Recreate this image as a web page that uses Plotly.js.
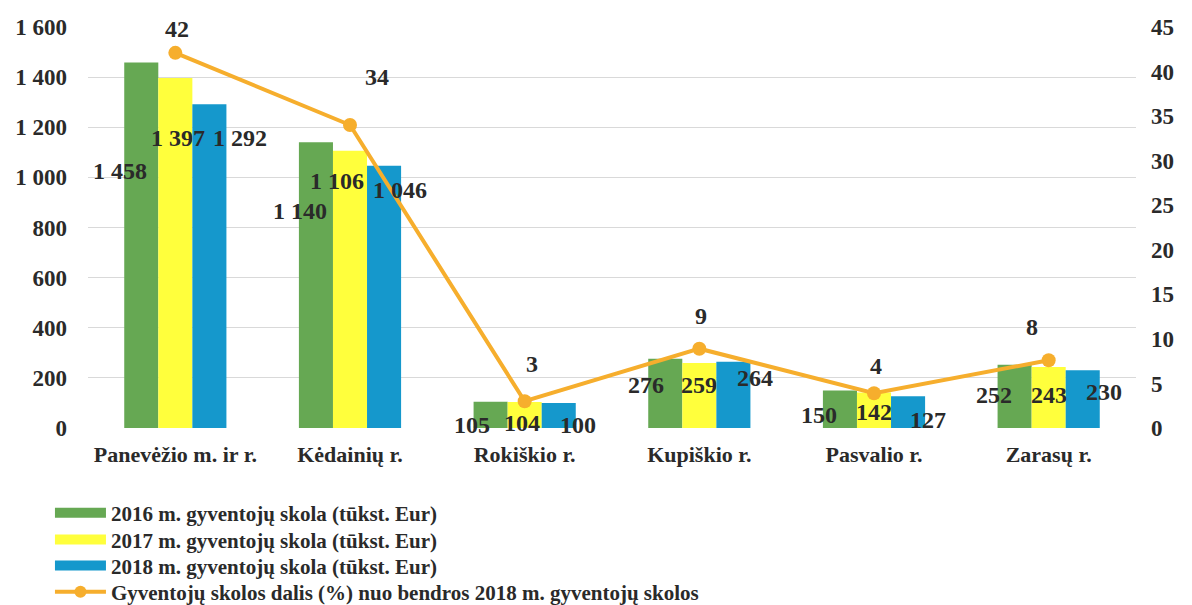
<!DOCTYPE html>
<html><head><meta charset="utf-8">
<script src="https://cdn.plot.ly/plotly-3.0.1.min.js"></script>
<style>body{margin:0;background:#fff}#chart{width:1192px;height:605px}</style>
</head><body><div id="chart"></div>
<script>
const categories = ["Panevėžio m. ir r.", "Kėdainių r.", "Rokiškio r.", "Kupiškio r.", "Pasvalio r.", "Zarasų r."];
const debt2016 = [1458, 1140, 105, 276, 150, 252];
const debt2017 = [1397, 1106, 104, 259, 142, 243];
const debt2018 = [1292, 1046, 100, 264, 127, 230];
const sharePct = [42.1, 34.0, 3.0, 8.9, 3.9, 7.6];
const seriesNames = ["2016 m. gyventojų skola (tūkst. Eur)", "2017 m. gyventojų skola (tūkst. Eur)", "2018 m. gyventojų skola (tūkst. Eur)"];
const lineName = "Gyventojų skolos dalis (%) nuo bendros 2018 m. gyventojų skolos";

// styling
const colors = ["#66A853", "#FFFF3C", "#1598CC"];
const orange = "#F6AE2D";
const FONT = "Liberation Serif";
const txtColor = "#2a2a2a";
const barXShift = [-55, 3, 65];
const barLabelYShift = [
  [-108, -69, -23, -26, -25, -30],
  [-60, -30, -21, -22, -20, -28],
  [-34, -24, -22, -16, -24, -22]
];
const barLabelXAdj = [
  [0, 5, 2, 2, 0, 0],
  [0, -16, -6, -3, -3, -3],
  [0, -15, -12, -9, -11, -10]
];
const lineLabelXShift = [2, 27, 7, 2, 2, -17];
const lineLabelYShift = [24, 48, 37, 33, 27, 33];
const legendRowY = [-0.212, -0.279, -0.344, -0.409];

function fmt(v){ return String(Math.round(v)).replace(/\B(?=(\d{3})+(?!\d))/g, " "); }
function f(size){ return {family: FONT, size: size, color: txtColor, weight: "bold"}; }

const barSeries = [debt2016, debt2017, debt2018];
const traces = barSeries.map((vals, i) => ({
  type: "bar", x: categories, y: vals, name: seriesNames[i],
  marker: {color: colors[i]}, showlegend: false, hoverinfo: "y"
}));
traces.push({
  type: "scatter", mode: "lines+markers", x: categories, y: sharePct, yaxis: "y2",
  name: lineName, line: {color: orange, width: 4}, marker: {color: orange, size: 14},
  showlegend: false
});
const legKeys = ["legend", "legend2", "legend3", "legend4"];
// legend entries
barSeries.forEach((vals, i) => traces.push({
  type: "scatter", mode: "lines", x: [null], y: [null], name: seriesNames[i],
  line: {color: colors[i], width: 11}, showlegend: true, hoverinfo: "skip", legend: legKeys[i]
}));
traces.push({
  type: "scatter", mode: "lines+markers", x: [null], y: [null], name: lineName,
  line: {color: orange, width: 4}, marker: {color: orange, size: 12}, showlegend: true,
  hoverinfo: "skip", legend: legKeys[3]
});

const annotations = [];
barSeries.forEach((vals, s) => vals.forEach((v, i) => annotations.push({
  x: categories[i], y: v, xref: "x", yref: "y", text: fmt(v), showarrow: false,
  xshift: barXShift[s] + barLabelXAdj[s][i], yshift: barLabelYShift[s][i],
  font: f(24)
})));
sharePct.forEach((v, i) => annotations.push({
  x: categories[i], y: v, xref: "x", yref: "y2", text: fmt(v), showarrow: false,
  xshift: lineLabelXShift[i], yshift: lineLabelYShift[i],
  font: f(24)
}));

const layout = {
  width: 1192, height: 605,
  margin: {l: 88, r: 56, t: 27, b: 177, autoexpand: false},
  paper_bgcolor: "#fff", plot_bgcolor: "#fff",
  separators: ", ",
  barmode: "group", bargap: 0.415, bargroupgap: 0,
  font: {family: FONT, color: txtColor},
  xaxis: {
    showgrid: false, zeroline: false, showline: false, ticks: "",
    ticklabelstandoff: 11,
    tickfont: f(22)
  },
  yaxis: {
    range: [0, 1600], dtick: 200, tickformat: ",d",
    showgrid: true, gridcolor: "#d9d9d9", gridwidth: 1, zeroline: false, showline: false,
    ticklabelstandoff: 20,
    tickfont: f(23)
  },
  yaxis2: {
    range: [0, 45], dtick: 5, overlaying: "y", side: "right",
    showgrid: false, zeroline: false, showline: false,
    ticklabelstandoff: 14,
    tickfont: f(23)
  },
  annotations: annotations
};
legKeys.forEach((k, i) => {
  layout[k] = {
    x: -0.0363, xanchor: "left", y: legendRowY[i], yanchor: "middle",
    orientation: "v", itemwidth: 51,
    font: f(21), bgcolor: "rgba(0,0,0,0)"
  };
});
Plotly.newPlot("chart", traces, layout, {displayModeBar: false, staticPlot: true});
</script>
</body></html>
